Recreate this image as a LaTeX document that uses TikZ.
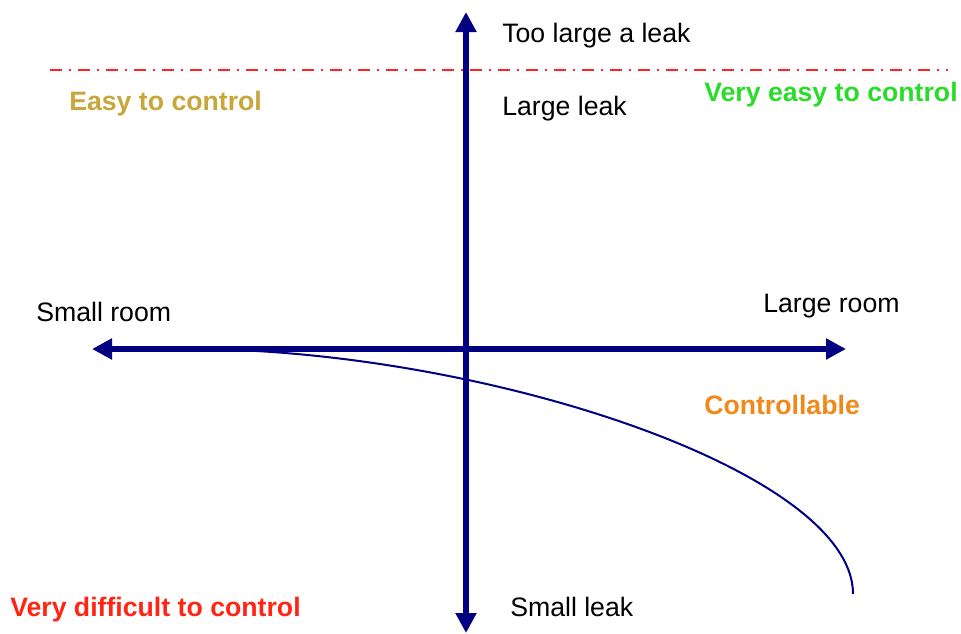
\documentclass[tikz,border=0pt]{standalone}
\usepackage{fontspec}
\setmainfont{Liberation Sans}
\usetikzlibrary{arrows.meta,positioning}
\definecolor{axisblue}{RGB}{0,0,128}
\definecolor{lineRed}{RGB}{255,32,32}
\definecolor{easyGold}{RGB}{200,166,58}
\definecolor{veryGreen}{RGB}{40,220,40}
\definecolor{ctrlOrange}{RGB}{240,136,26}
\definecolor{hardRed}{RGB}{255,36,20}

\begin{document}
\begin{tikzpicture}[
	x=0.75pt, y=-0.75pt,
	every node/.style={font=\fontsize{20}{24}\selectfont, inner sep=0pt, anchor=base west},
	zone/.style={font=\fontsize{20}{24}\selectfont\bfseries},
	axis/.style={-{Triangle[length=15pt,width=15pt]}, line width=4.5pt, color=axisblue},
	limit/.style={lineRed, line width=1.5pt, dash pattern=on 9pt off 5pt on 2pt off 5pt}
	]
	\useasboundingbox (0,0) rectangle (961,633);
	
	% axes
	\coordinate (top) at (466,12);
	\coordinate (bottom) at (466,633);
	\coordinate (left) at (92,349);
	\coordinate (right) at (846,349);
	\coordinate (mid) at (466,349);
	\draw[axis] (mid) -- (top);
	\draw[axis] (mid) -- (bottom);
	\draw[axis] (mid) -- (left);
	\draw[axis] (mid) -- (right);
	
	% limit line
	\coordinate (limA) at (50,70);
	\coordinate (limB) at (948,70);
	\draw[limit] (limA) -- (limB);
	
	% control curve
	\coordinate (cStart) at (190,349);
	\coordinate (cEnd) at (853,594);
	\draw[axisblue, line width=1.5pt] (cStart) .. controls (480,349) and (853,470) .. (cEnd);
	
	% labels
	\node (toolarge) at (502,42.5) {Too large a leak};
	\node (largeleak) at (502,115.5) {Large leak};
	\node (smallleak) at (510,616.5) {Small leak};
	\node (smallroom) at (36,321.5) {Small room};
	\node (largeroom) at (763,312.5) {Large room};
	
	\node[zone, easyGold] (easy) at (69,110.5) {Easy to control};
	\node[zone, veryGreen] (veryeasy) at (704,101.5) {Very easy to control};
	\node[zone, ctrlOrange] (ctrl) at (704,414.5) {Controllable};
	\node[zone, hardRed] (hard) at (10,616.5) {Very difficult to control};
	
\end{tikzpicture}
\end{document}
